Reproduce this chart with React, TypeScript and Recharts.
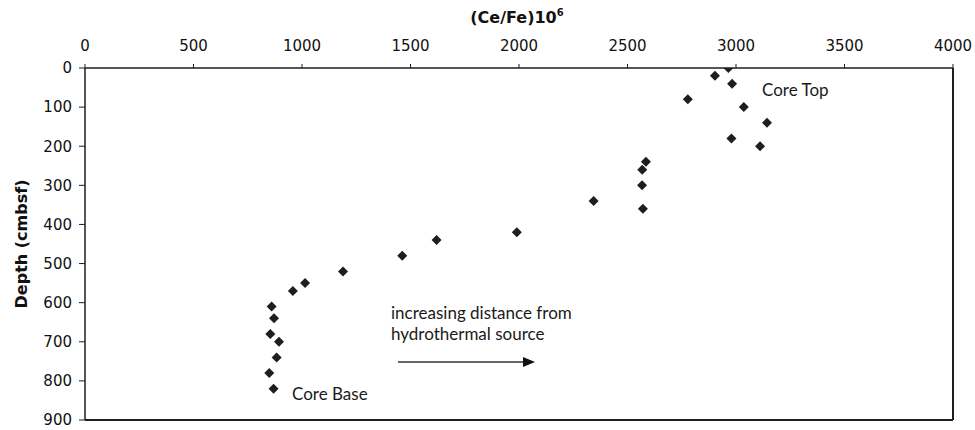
import { ScatterChart, Scatter, XAxis, YAxis, Customized } from 'recharts'

// Ce/Fe ratio (x10^6) down core, paired with sample depth in cmbsf
const ceFe = [
  2965, 2903, 2982, 2778, 3036, 3143, 2979, 3111, 2585, 2568, 2567, 2344, 2571,
  1990, 1620, 1462, 1189, 1014, 958, 860, 871, 854, 894, 883, 849, 869,
]
const depth = [
  0, 20, 40, 80, 100, 140, 180, 200, 240, 260, 300, 340, 360,
  420, 440, 480, 520, 550, 570, 610, 640, 680, 700, 740, 780, 820,
]
const xTicks = [0, 500, 1000, 1500, 2000, 2500, 3000, 3500, 4000]
const yTicks = [0, 100, 200, 300, 400, 500, 600, 700, 800, 900]

const points = ceFe.map((v, i) => ({ ratio: v, depth: depth[i] }))

const W = 975
const H = 430
const MARGIN = { top: 28, right: 22, bottom: 10, left: 35 }
const X_AXIS_H = 40
const Y_AXIS_W = 50
// plot box edges
const BOX = {
  left: MARGIN.left + Y_AXIS_W,
  top: MARGIN.top + X_AXIS_H,
  right: W - MARGIN.right,
  bottom: H - MARGIN.bottom,
}

const INK = '#1e1e1e'
const tickFont = { fontSize: 15, fill: '#111', fontFamily: 'DejaVu Sans' }
const noteFont = { fontSize: 17, fill: '#1a1a1a', fontFamily: 'Lato' }

function Diamond(props: any) {
  const { cx, cy } = props
  const r = 5
  return <path d={`M${cx},${cy - r}L${cx + r},${cy}L${cx},${cy + r}L${cx - r},${cy}Z`} fill={INK} />
}

function Notes() {
  return (
    <g>
      {/* right and bottom sides of the plot frame */}
      <line x1={BOX.right} y1={BOX.top} x2={BOX.right} y2={BOX.bottom} stroke={INK} strokeWidth={2} />
      <line x1={BOX.left} y1={BOX.bottom} x2={BOX.right} y2={BOX.bottom} stroke={INK} strokeWidth={2} />
      <text x={517} y={23} textAnchor="middle" fontFamily="DejaVu Sans" fontWeight="bold" fontSize={16} fill="#111">
        (Ce/Fe)10<tspan fontSize={10} dy={-7}>6</tspan>
      </text>
      <text
        transform="translate(27,244) rotate(-90)"
        textAnchor="middle"
        fontFamily="DejaVu Sans"
        fontWeight="bold"
        fontSize={16}
        fill="#111"
      >
        Depth (cmbsf)
      </text>
      <text x={762} y={96} {...noteFont}>Core Top</text>
      <text x={292} y={400} {...noteFont}>Core Base</text>
      <text x={391} y={319} {...noteFont}>increasing distance from</text>
      <text x={391} y={340} {...noteFont}>hydrothermal source</text>
      <line x1={398} y1={362} x2={524} y2={362} stroke="#333" strokeWidth={1.3} />
      <path d="M523,357L535,362L523,367Z" fill="#111" />
    </g>
  )
}

export default function App() {
  return (
    <div style={{ position: 'absolute', left: 0, top: 0, width: W, height: H, background: '#fff' }}>
      <ScatterChart width={W} height={H} margin={MARGIN}>
        <XAxis
          type="number"
          dataKey="ratio"
          orientation="top"
          domain={[0, 4000]}
          ticks={xTicks}
          height={X_AXIS_H}
          tickSize={4}
          tickMargin={13}
          tick={tickFont}
          axisLine={{ stroke: INK, strokeWidth: 1.5 }}
          tickLine={{ stroke: INK }}
          allowDataOverflow
        />
        <YAxis
          type="number"
          dataKey="depth"
          reversed
          domain={[0, 900]}
          ticks={yTicks}
          width={Y_AXIS_W}
          tickSize={6}
          tickMargin={7}
          tick={tickFont}
          axisLine={{ stroke: INK, strokeWidth: 1.5 }}
          tickLine={{ stroke: INK }}
          allowDataOverflow
        />
        <Scatter data={points} shape={Diamond} isAnimationActive={false} />
        <Customized component={Notes} />
      </ScatterChart>
    </div>
  )
}
